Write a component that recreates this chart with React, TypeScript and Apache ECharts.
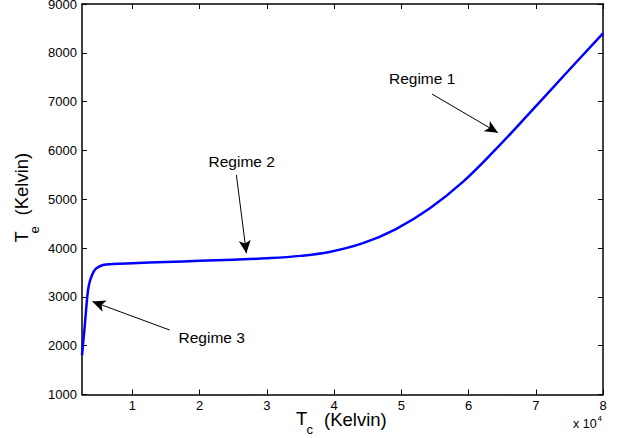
import React, { useEffect, useRef } from "react";
import * as echarts from "echarts";

const tcValues = [2500, 2700, 2900, 3150, 3400, 3650, 3900, 4250, 4640, 5620, 7100, 10000, 15000, 20000, 25000, 30000, 35000, 39300, 44300, 49200, 54200, 59200, 64100, 69100, 74100, 80000];
const teValues = [1800, 2100, 2390, 2800, 3140, 3310, 3413, 3520, 3585, 3653, 3673, 3690, 3715, 3738, 3762, 3790, 3840, 3920, 4100, 4390, 4810, 5360, 6030, 6770, 7520, 8400];

const xTicks = [10000, 20000, 30000, 40000, 50000, 60000, 70000, 80000];
const xTickLabels = ["1", "2", "3", "4", "5", "6", "7", "8"];

const regimeNames = ["Regime 1", "Regime 2", "Regime 3"];
const regimeLabelAt = [[53100, 7474], [26254, 5773], [21792, 2168]];
const arrowFrom = [[54559, 7156], [25465, 5497], [15545, 2321]];
const arrowTo = [[64376, 6363], [26953, 3893], [4047, 2905]];

const FONT = "'Liberation Sans', Arial, Helvetica, sans-serif";

export default function App() {
  const ref = useRef<HTMLDivElement>(null);
  useEffect(() => {
    if (!ref.current) return;
    const chart = echarts.init(ref.current, null, { renderer: "svg" });
    const lineData = tcValues.map((x, i) => [x, teValues[i]]);
    const axisLine = { show: true, lineStyle: { color: "#000", width: 1.5 } };
    const tick = { show: true, inside: true, length: 5, lineStyle: { color: "#000", width: 1 } };
    chart.setOption({
      animation: false,
      backgroundColor: "#fff",
      grid: { left: 82, right: 16, top: 4, bottom: 43.5, outerBoundsMode: "none", containLabel: false },
      xAxis: [
        {
          type: "value",
          min: 2500,
          max: 80000,
          position: "bottom",
          axisLine,
          axisTick: { ...tick, customValues: xTicks },
          axisLabel: {
            customValues: xTicks,
            formatter: (v: number) => xTickLabels[xTicks.indexOf(v)] ?? String(v / 10000),
            color: "#000",
            fontSize: 13,
            fontFamily: FONT,
            margin: 5,
            lineHeight: 12,
          },
          splitLine: { show: false },
        },
        {
          type: "value",
          min: 2500,
          max: 80000,
          position: "top",
          axisLine,
          axisTick: { ...tick, customValues: xTicks },
          axisLabel: { show: false },
          splitLine: { show: false },
        },
      ],
      yAxis: [
        {
          type: "value",
          min: 1000,
          max: 9000,
          interval: 1000,
          position: "left",
          axisLine,
          axisTick: tick,
          axisLabel: {
            color: "#000",
            fontSize: 13,
            fontFamily: FONT,
            margin: 5,
            lineHeight: 10,
            formatter: (v: number) => String(v),
          },
          splitLine: { show: false },
        },
        {
          type: "value",
          min: 1000,
          max: 9000,
          interval: 1000,
          position: "right",
          axisLine,
          axisTick: tick,
          axisLabel: { show: false },
          splitLine: { show: false },
        },
      ],
      series: [
        {
          type: "line",
          data: lineData,
          showSymbol: false,
          symbol: "none",
          smooth: 0.4,
          lineStyle: { color: "#0000ff", width: 2.5 },
          silent: true,
          markLine: {
            silent: true,
            animation: false,
            symbol: ["none", "arrow"],
            symbolSize: [9, 13],
            label: { show: false },
            lineStyle: { color: "#000", width: 1, type: "solid" },
            emphasis: { disabled: true },
            data: arrowFrom.map((f, i) => [
              { coord: f },
              { coord: arrowTo[i] },
            ]),
          },
          markPoint: {
            silent: true,
            symbol: "circle",
            symbolSize: 0,
            itemStyle: { color: "rgba(0,0,0,0)" },
            label: {
              show: true,
              position: "inside",
              formatter: "{b}",
              color: "#000",
              fontSize: 15.5,
              fontFamily: FONT,
            },
            data: regimeNames.map((n, i) => ({ name: n, coord: regimeLabelAt[i] })),
          },
        },
      ],
      graphic: [
        { type: "text", x: 296, y: 418.5, style: { text: "T", fontSize: 18.5, fontFamily: FONT, fill: "#000", align: "left", verticalAlign: "middle" } },
        { type: "text", x: 306.5, y: 429, style: { text: "c", fontSize: 13, fontFamily: FONT, fill: "#000", align: "left", verticalAlign: "middle" } },
        { type: "text", x: 324, y: 419, style: { text: "(Kelvin)", fontSize: 18.5, fontFamily: FONT, fill: "#000", align: "left", verticalAlign: "middle" } },
        { type: "text", x: 21.5, y: 242.5, rotation: Math.PI / 2, style: { text: "T", fontSize: 18.5, fontFamily: FONT, fill: "#000", align: "left", verticalAlign: "middle" } },
        { type: "text", x: 34, y: 233.5, rotation: Math.PI / 2, style: { text: "e", fontSize: 13, fontFamily: FONT, fill: "#000", align: "left", verticalAlign: "middle" } },
        { type: "text", x: 21.5, y: 215.5, rotation: Math.PI / 2, style: { text: "(Kelvin)", fontSize: 18.5, fontFamily: FONT, fill: "#000", align: "left", verticalAlign: "middle" } },
        { type: "text", x: 573, y: 424, style: { text: "x 10", fontSize: 12.5, fontFamily: FONT, fill: "#000", align: "left", verticalAlign: "middle" } },
        { type: "text", x: 597.5, y: 418.5, style: { text: "4", fontSize: 8, fontFamily: FONT, fill: "#000", align: "left", verticalAlign: "middle" } },
      ],
    });
    return () => chart.dispose();
  }, []);
  return (
    <div
      ref={ref}
      style={{ position: "absolute", left: 0, top: 0, width: 619, height: 438, background: "#fff" }}
    />
  );
}
